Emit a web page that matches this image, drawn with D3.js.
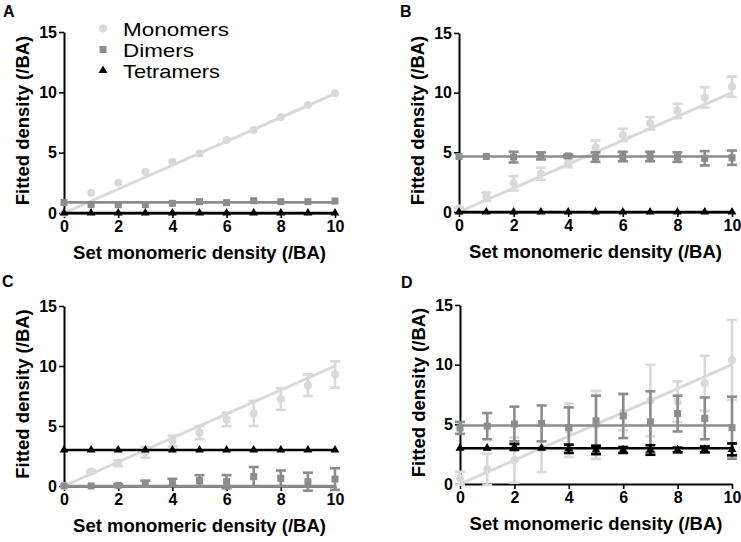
<!DOCTYPE html>
<html>
<head>
<meta charset="utf-8">
<script src="https://cdn.jsdelivr.net/npm/d3@7"></script>
<style>
  html, body { margin: 0; padding: 0; background: #fff; }
  svg { display: block; font-family: "Liberation Sans", Arial, Helvetica, sans-serif; }
</style>
</head>
<body>
<svg id="chart" width="741" height="542"></svg>
<script>
// ---------- data ----------
const xValues = [0, 1, 2, 3, 4, 5, 6, 7, 8, 9, 10];
const xTicks = [0, 2, 4, 6, 8, 10];
const yTicks = [0, 5, 10, 15];
const seriesNames = ["Monomers", "Dimers", "Tetramers"];
const panelLabels = ["A", "B", "C", "D"];
const xTitle = "Set monomeric density (/BA)";
const yTitle = "Fitted density (/BA)";

// Panel A
const aMono = [0, 1.68, 2.51, 3.42, 4.25, 4.94, 6.05, 6.88, 7.93, 8.95, 9.92];
const aMonoErr = [0, 0, 0, 0, 0, 0, 0, 0, 0, 0, 0];
const aDim = [0.88, 0.69, 0.69, 0.69, 0.8, 0.94, 0.86, 1.02, 0.94, 0.94, 0.99];
const aDimErr = [0, 0, 0, 0, 0, 0, 0, 0, 0, 0, 0];
const aTet = [0, 0, 0, 0, 0, 0, 0, 0, 0, 0, 0];
const aTetErr = [0, 0, 0, 0, 0, 0, 0, 0, 0, 0, 0];
const aFits = [[0, 9.9], [0.88, 0.88], [0, 0]];

// Panel B
const bMono = [0.31, 1.28, 2.4, 3.2, 4.1, 5.4, 6.45, 7.43, 8.47, 9.6, 10.5];
const bMonoErr = [0.1, 0.35, 0.6, 0.5, 0.35, 0.6, 0.52, 0.52, 0.6, 0.85, 0.85];
const bDim = [4.65, 4.65, 4.6, 4.7, 4.7, 4.6, 4.65, 4.65, 4.6, 4.5, 4.55];
const bDimErr = [0, 0, 0.45, 0.3, 0.1, 0.4, 0.4, 0.4, 0.4, 0.6, 0.6];
const bTet = [0, 0, 0, 0, 0, 0, 0, 0, 0, 0, 0];
const bTetErr = [0, 0, 0, 0, 0, 0, 0, 0, 0, 0, 0];
const bFits = [[0, 10], [4.65, 4.65], [0, 0]];

// Panel C
const cMono = [0, 1.2, 1.9, 2.8, 3.75, 4.45, 5.55, 6.05, 7.25, 8.4, 9.3];
const cMonoErr = [0, 0.1, 0.25, 0.45, 0.45, 0.55, 0.56, 1.05, 0.9, 0.9, 1.1];
const cDim = [0, 0, 0.05, 0.2, 0.3, 0.45, 0.36, 0.78, 0.64, 0.36, 0.58];
const cDimErr = [0, 0, 0.1, 0.25, 0.3, 0.45, 0.55, 0.8, 0.65, 0.75, 0.9];
const cTet = [3, 3, 3, 3, 3, 3, 3, 3, 3, 3, 3];
const cTetErr = [0, 0, 0, 0, 0, 0, 0, 0, 0, 0, 0];
const cFits = [[0, 10], [0, 0], [3, 3]];

// Panel D
const dMono = [0.48, 1.23, 2.0, 3.0, 4.5, 4.95, 6.0, 7.0, 6.9, 8.44, 10.4];
const dMonoErr = [0.55, 1.3, 1.9, 2.0, 2.25, 2.85, 1.5, 3.0, 1.7, 2.3, 3.35];
const dDim = [4.7, 4.85, 5.03, 5.08, 4.72, 5.3, 5.7, 5.22, 5.9, 5.5, 4.72];
const dDimErr = [0.5, 1.1, 1.45, 1.5, 1.7, 2.1, 1.85, 2.55, 1.5, 1.75, 2.6];
const dTet = [3.0, 3.0, 3.1, 3.0, 2.95, 2.85, 2.85, 2.85, 2.85, 2.9, 2.9];
const dTetErr = [0, 0, 0.25, 0, 0.35, 0.35, 0.25, 0.4, 0.2, 0.25, 0.5];
const dFits = [[0, 10], [4.9, 4.9], [3, 3]];

// ---------- layout / style ----------
const colors = ["#d9d9d9", "#8c8c8c", "#000000"];
const panels = [
  { label: panelLabels[0], left: 64, top: 32, width: 271, height: 181, labelX: 3, labelY: 17,
    series: [[aMono, aMonoErr], [aDim, aDimErr], [aTet, aTetErr]], fits: aFits, legend: true },
  { label: panelLabels[1], left: 459, top: 33, width: 273, height: 179, labelX: 400, labelY: 17,
    series: [[bMono, bMonoErr], [bDim, bDimErr], [bTet, bTetErr]], fits: bFits },
  { label: panelLabels[2], left: 64, top: 306, width: 271, height: 180, labelX: 2, labelY: 287,
    series: [[cMono, cMonoErr], [cDim, cDimErr], [cTet, cTetErr]], fits: cFits },
  { label: panelLabels[3], left: 460, top: 305, width: 272, height: 179, labelX: 401, labelY: 288,
    series: [[dMono, dMonoErr], [dDim, dDimErr], [dTet, dTetErr]], fits: dFits }
];

const svg = d3.select("#chart");

function marker(sel, type, color) {
  if (type === 0) {
    sel.append("circle").attr("r", 4).attr("fill", color);
  } else if (type === 1) {
    sel.append("rect").attr("x", -3.5).attr("y", -3.5).attr("width", 7).attr("height", 7).attr("fill", color);
  } else {
    sel.append("path").attr("d", d3.symbol().type(d3.symbolTriangle).size(34)()).attr("fill", color);
  }
}

panels.forEach(p => {
  const g = svg.append("g");
  const x = d3.scaleLinear().domain([0, 10]).range([p.left, p.left + p.width]);
  const y = d3.scaleLinear().domain([0, 15]).range([p.top + p.height, p.top]);

  // panel label
  g.append("text").attr("x", p.labelX).attr("y", p.labelY)
    .attr("font-size", 16).attr("font-weight", "bold").text(p.label);

  // axes
  const xAxis = d3.axisBottom(x).tickValues(xTicks).tickSize(5).tickSizeOuter(0).tickPadding(3);
  const yAxis = d3.axisLeft(y).tickValues(yTicks).tickSize(5).tickSizeOuter(0).tickPadding(2);
  const gx = g.append("g").attr("transform", `translate(0,${y(0)})`).call(xAxis);
  const gy = g.append("g").attr("transform", `translate(${x(0)},0)`).call(yAxis);
  [gx, gy].forEach(a => {
    a.select(".domain").attr("stroke", "#000").attr("stroke-width", 2);
    a.selectAll(".tick line").attr("stroke", "#000").attr("stroke-width", 1.6);
    a.selectAll(".tick text").attr("font-size", 16).attr("font-weight", "bold")
      .attr("fill", "#000").attr("font-family", "Liberation Sans, Arial, sans-serif");
  });

  // axis titles
  g.append("text")
    .attr("x", (x(0) + x(10)) / 2).attr("y", y(0) + 46)
    .attr("text-anchor", "middle").attr("font-size", 18.5).attr("font-weight", "bold")
    .text(xTitle);
  g.append("text")
    .attr("transform", `translate(${p.left - 35.5},${(y(0) + y(15)) / 2 - 2}) rotate(-90)`)
    .attr("text-anchor", "middle").attr("font-size", 18.5).attr("font-weight", "bold")
    .text(yTitle);

  // series
  p.series.forEach((s, si) => {
    const [vals, errs] = s;
    const col = colors[si];
    const sg = g.append("g");
    // fit line
    const fit = p.fits[si];
    sg.append("line")
      .attr("x1", x(0)).attr("x2", x(10))
      .attr("y1", y(fit[0])).attr("y2", y(fit[1]))
      .attr("stroke", col).attr("stroke-width", si === 0 ? 3 : 2.6);
    // error bars
    xValues.forEach((xv, i) => {
      const e = errs[i];
      if (e <= 0) return;
      const v = vals[i];
      const cx = x(xv);
      sg.append("line").attr("x1", cx).attr("x2", cx)
        .attr("y1", y(v - e)).attr("y2", y(v + e))
        .attr("stroke", col).attr("stroke-width", 2.6);
      [v - e, v + e].forEach(ev => {
        sg.append("line").attr("x1", cx - 5).attr("x2", cx + 5)
          .attr("y1", y(ev)).attr("y2", y(ev))
          .attr("stroke", col).attr("stroke-width", 2.6);
      });
    });
    // markers
    xValues.forEach((xv, i) => {
      const m = sg.append("g").attr("transform", `translate(${x(xv)},${y(vals[i])})`);
      marker(m, si, col);
    });
  });

  // legend
  if (p.legend) {
    const lg = g.append("g");
    const legendY = [28.5, 49.5, 70.5];
    seriesNames.forEach((name, i) => {
      const m = lg.append("g").attr("transform", `translate(103,${legendY[i]})`);
      marker(m, i, colors[i]);
      lg.append("text").attr("x", 123).attr("y", legendY[i] + 7)
        .attr("font-size", 18.5).attr("fill", "#000")
        .attr("textLength", [106, 71, 97][i]).attr("lengthAdjust", "spacingAndGlyphs")
        .text(name);
    });
  }
});
</script>
</body>
</html>
